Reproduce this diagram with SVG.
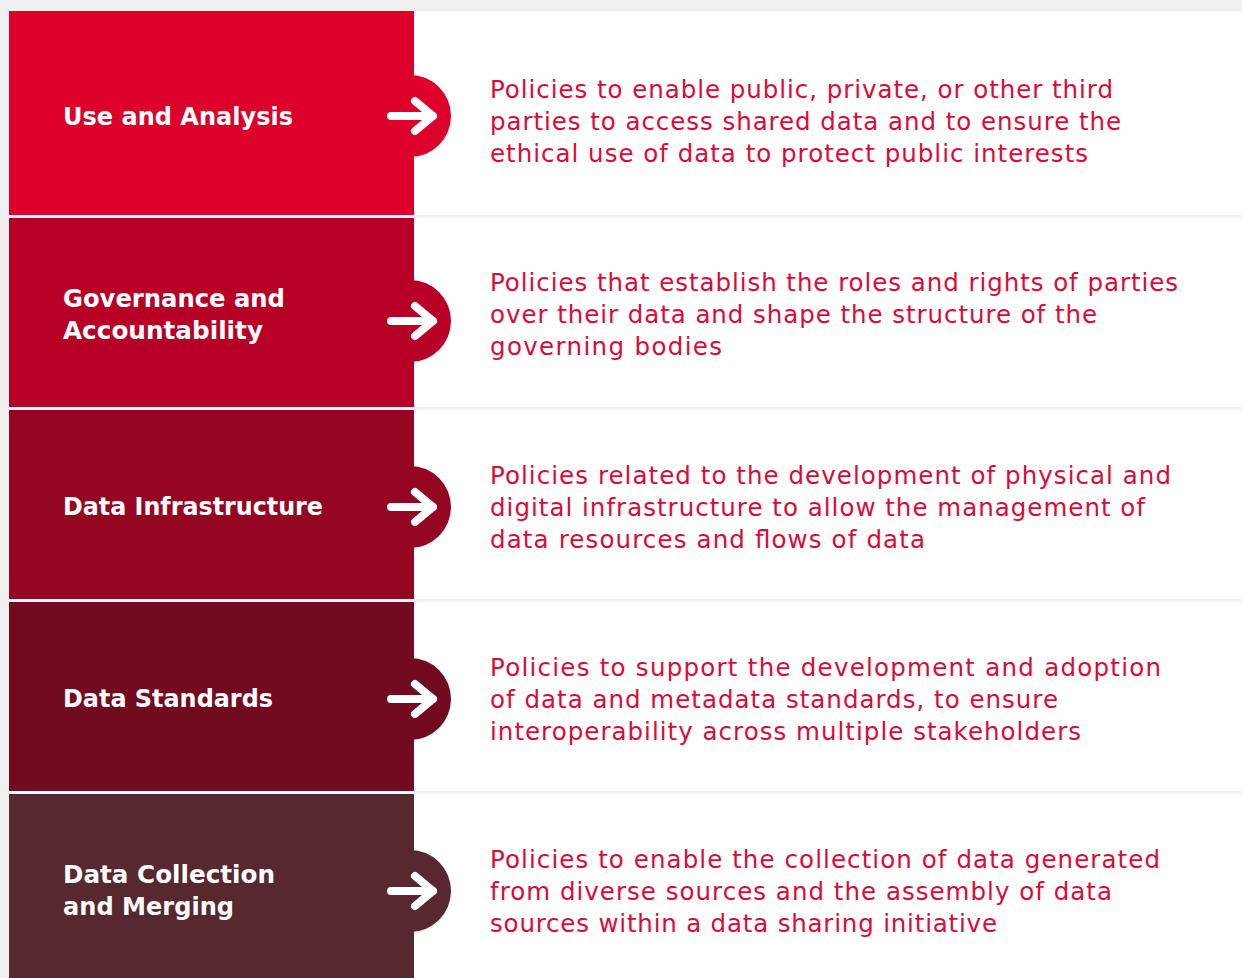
<svg xmlns="http://www.w3.org/2000/svg" width="1242" height="978" viewBox="0 0 1242 978">
<style>
.lbl{font-family:"DejaVu Sans","Liberation Sans",sans-serif;font-weight:700;font-size:25px;fill:#ffffff}
.desc{font-family:"DejaVu Sans","Liberation Sans",sans-serif;font-size:24.5px;fill:#dc0a35}
.arr{fill:none;stroke:#ffffff;stroke-width:8;stroke-linecap:round;stroke-linejoin:round}
</style>
<defs>
<g id="arrow"><path class="arr" d="M391 0 H433 M415 -15 L433 0 L415 15"/></g>
</defs>
<rect width="1242" height="978" fill="#f0f0f0"/>
<rect x="414" y="11" width="828" height="967" fill="#ffffff"/>
<g id="separators">
<rect x="414" y="215" width="828" height="3" fill="#f0f0f0"/>
<rect x="414" y="407" width="828" height="3" fill="#f0f0f0"/>
<rect x="414" y="599" width="828" height="3" fill="#f0f0f0"/>
<rect x="414" y="791" width="828" height="3" fill="#f0f0f0"/>
<rect x="9" y="215" width="405" height="3" fill="#ffffff"/>
<rect x="9" y="407" width="405" height="3" fill="#ffffff"/>
<rect x="9" y="599" width="405" height="3" fill="#ffffff"/>
<rect x="9" y="791" width="405" height="3" fill="#ffffff"/>
</g>
<g id="node1">
<rect x="9" y="11" width="405" height="204" fill="#dc002b"/>
<circle cx="410" cy="116" r="41" fill="#dc002b"/>
<use href="#arrow" y="116"/>
<text class="lbl" x="63" y="125" textLength="230" lengthAdjust="spacingAndGlyphs">Use and Analysis</text>
<text class="desc" x="490" y="98" textLength="623" lengthAdjust="spacing">Policies to enable public, private, or other third</text>
<text class="desc" x="490" y="130" textLength="631" lengthAdjust="spacing">parties to access shared data and to ensure the</text>
<text class="desc" x="490" y="162" textLength="598" lengthAdjust="spacing">ethical use of data to protect public interests</text>
</g>
<g id="node2">
<rect x="9" y="218" width="405" height="189" fill="#b80027"/>
<circle cx="410" cy="321" r="41" fill="#b80027"/>
<use href="#arrow" y="321"/>
<text class="lbl" x="63" y="307" textLength="222" lengthAdjust="spacingAndGlyphs">Governance and</text>
<text class="lbl" x="63" y="339" textLength="200" lengthAdjust="spacingAndGlyphs">Accountability</text>
<text class="desc" x="490" y="291" textLength="688" lengthAdjust="spacing">Policies that establish the roles and rights of parties</text>
<text class="desc" x="490" y="323" textLength="607" lengthAdjust="spacing">over their data and shape the structure of the</text>
<text class="desc" x="490" y="355" textLength="232" lengthAdjust="spacing">governing bodies</text>
</g>
<g id="node3">
<rect x="9" y="410" width="405" height="189" fill="#940622"/>
<circle cx="410" cy="507" r="41" fill="#940622"/>
<use href="#arrow" y="507"/>
<text class="lbl" x="63" y="515" textLength="260" lengthAdjust="spacingAndGlyphs">Data Infrastructure</text>
<text class="desc" x="490" y="484" textLength="681" lengthAdjust="spacing">Policies related to the development of physical and</text>
<text class="desc" x="490" y="516" textLength="655" lengthAdjust="spacing">digital infrastructure to allow the management of</text>
<text class="desc" x="490" y="548" textLength="435" lengthAdjust="spacing">data resources and flows of data</text>
</g>
<g id="node4">
<rect x="9" y="602" width="405" height="189" fill="#730b20"/>
<circle cx="410" cy="699" r="41" fill="#730b20"/>
<use href="#arrow" y="699"/>
<text class="lbl" x="63" y="707" textLength="210" lengthAdjust="spacingAndGlyphs">Data Standards</text>
<text class="desc" x="490" y="676" textLength="671" lengthAdjust="spacing">Policies to support the development and adoption</text>
<text class="desc" x="490" y="708" textLength="568" lengthAdjust="spacing">of data and metadata standards, to ensure</text>
<text class="desc" x="490" y="740" textLength="591" lengthAdjust="spacing">interoperability across multiple stakeholders</text>
</g>
<g id="node5">
<rect x="9" y="794" width="405" height="184" fill="#572830"/>
<circle cx="410" cy="891" r="41" fill="#572830"/>
<use href="#arrow" y="891"/>
<text class="lbl" x="63" y="883" textLength="212" lengthAdjust="spacingAndGlyphs">Data Collection</text>
<text class="lbl" x="63" y="915" textLength="171" lengthAdjust="spacingAndGlyphs">and Merging</text>
<text class="desc" x="490" y="868" textLength="670" lengthAdjust="spacing">Policies to enable the collection of data generated</text>
<text class="desc" x="490" y="900" textLength="622" lengthAdjust="spacing">from diverse sources and the assembly of data</text>
<text class="desc" x="490" y="932" textLength="507" lengthAdjust="spacing">sources within a data sharing initiative</text>
</g>
</svg>
